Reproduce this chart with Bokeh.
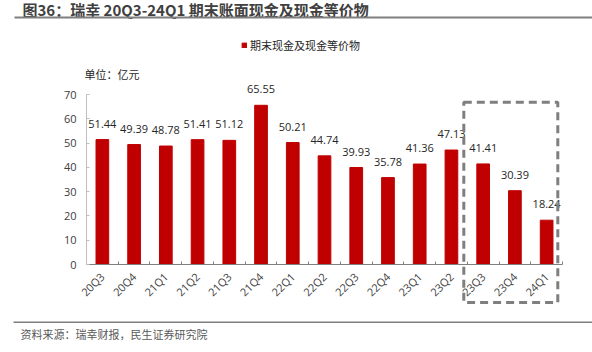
from math import pi
from bokeh.plotting import figure
from bokeh.models import (ColumnDataSource, LabelSet, Label, BoxAnnotation,
                          FixedTicker, Legend, LegendItem, Range1d)
from bokeh.core.properties import value
from bokeh.embed import file_html
from bokeh.resources import INLINE

quarters = ["20Q3", "20Q4", "21Q1", "21Q2", "21Q3", "21Q4", "22Q1", "22Q2",
            "22Q3", "22Q4", "23Q1", "23Q2", "23Q3", "23Q4", "24Q1"]
cash = [51.44, 49.39, 48.78, 51.41, 51.12, 65.55, 50.21, 44.74,
        39.93, 35.78, 41.36, 47.13, 41.41, 30.39, 18.24]
y_ticks = [0, 10, 20, 30, 40, 50, 60, 70]
series_name = "期末现金及现金等价物"
title_text = "图36：瑞幸 20Q3-24Q1 期末账面现金及现金等价物"
unit_text = "单位：亿元"
source_text = "资料来源：瑞幸财报，民生证券研究院"

CJK = "Noto Sans CJK SC"
NUM = "Open Sans"
RED = "#c00000"

W, H = 592, 352
# plot area (pixels from top-left) in which the axes sit
FL, FR, FT, FB = 86, 562, 94, 264

n = len(quarters)
y_lo, y_hi = y_ticks[0], y_ticks[-1]
x_lo, x_hi = -0.5, n - 0.5
xpx = (FR - FL) / (x_hi - x_lo)
ypx = (FB - FT) / (y_hi - y_lo)

xs = list(range(n))
src = ColumnDataSource(dict(x=xs, v=cash, lbl=[f"{v:.2f}" for v in cash]))

p = figure(width=W, height=H, output_backend="svg", toolbar_location=None,
           x_range=Range1d(x_lo - FL / xpx, x_hi + (W - FR) / xpx),
           y_range=Range1d(y_lo - (H - FB) / ypx, y_hi + FT / ypx),
           min_border=0)
p.xgrid.visible = False
p.ygrid.visible = False
p.outline_line_color = None
p.background_fill_color = "white"
p.border_fill_color = "white"

r = p.vbar(x="x", top="v", width=0.4, source=src, color=RED)

# y axis
p.yaxis.fixed_location = x_lo
p.yaxis.bounds = (y_lo, y_hi)
p.yaxis.ticker = FixedTicker(ticks=y_ticks, minor_ticks=[])
p.yaxis.axis_line_color = "#bfbfbf"
p.yaxis.major_tick_line_color = "#bfbfbf"
p.yaxis.major_tick_in = 3
p.yaxis.major_tick_out = 0
p.yaxis.minor_tick_line_color = None
p.yaxis.major_label_standoff = 10
p.yaxis.major_label_text_font = NUM
p.yaxis.major_label_text_font_size = "11px"
p.yaxis.major_label_text_color = "#404040"

# x axis
p.xaxis.fixed_location = y_lo
p.xaxis.bounds = (x_lo, x_hi)
p.xaxis.ticker = FixedTicker(ticks=xs, minor_ticks=[i - 0.5 for i in range(n + 1)])
p.xaxis.major_label_overrides = {i: q for i, q in zip(xs, quarters)}
p.xaxis.axis_line_color = "#7f7f7f"
p.xaxis.major_tick_line_color = None
p.xaxis.minor_tick_line_color = "#7f7f7f"
p.xaxis.minor_tick_in = 3
p.xaxis.minor_tick_out = 0
p.xaxis.major_label_orientation = pi / 4
p.xaxis.major_label_standoff = 4
p.xaxis.major_label_text_font = NUM
p.xaxis.major_label_text_font_size = "11px"
p.xaxis.major_label_text_color = "#404040"

# value labels
p.add_layout(LabelSet(x="x", y="v", text="lbl", source=src, y_offset=12,
                      text_align="center", text_baseline="alphabetic",
                      text_font=value(NUM), text_font_size="11px",
                      text_color="#262626"))

# legend
legend = Legend(items=[LegendItem(label=series_name, renderers=[r])],
                location=(241, 299), padding=0, margin=0, spacing=0,
                glyph_width=6, glyph_height=6, label_height=12, label_standoff=3,
                label_text_font=CJK, label_text_font_size="11px",
                label_text_color="#262626", background_fill_alpha=0,
                border_line_color=None)
p.add_layout(legend, "center")

# texts (screen units from canvas bottom-left)
p.add_layout(Label(x=22, y=H - 9, x_units="screen", y_units="screen", text=title_text,
                   text_font=CJK, text_font_size="15px", text_font_style="bold",
                   text_color="#404040", text_baseline="middle"))
p.add_layout(Label(x=84, y=H - 73, x_units="screen", y_units="screen", text=unit_text,
                   text_font=CJK, text_font_size="11px", text_color="#262626",
                   text_baseline="middle"))
p.add_layout(Label(x=20, y=H - 333, x_units="screen", y_units="screen", text=source_text,
                   text_font=CJK, text_font_size="11px", text_color="#595959",
                   text_baseline="middle"))

# rules
p.add_layout(BoxAnnotation(left=14, right=W, top=H - 16, bottom=H - 18,
                           left_units="screen", right_units="screen",
                           top_units="screen", bottom_units="screen",
                           fill_color="#7f7f7f", fill_alpha=1, line_color=None))
p.add_layout(BoxAnnotation(left=13, right=W, top=H - 321, bottom=H - 322.5,
                           left_units="screen", right_units="screen",
                           top_units="screen", bottom_units="screen",
                           fill_color="#7f7f7f", fill_alpha=1, line_color=None))
# dashed highlight box
p.add_layout(BoxAnnotation(left=463.3, right=557.3, top=H - 101.7, bottom=H - 302,
                           left_units="screen", right_units="screen",
                           top_units="screen", bottom_units="screen",
                           fill_alpha=0, line_color="#7f7f7f", line_width=3,
                           line_dash="8 5", line_alpha=1))

open("out.html", "w").write(file_html(p, INLINE))
